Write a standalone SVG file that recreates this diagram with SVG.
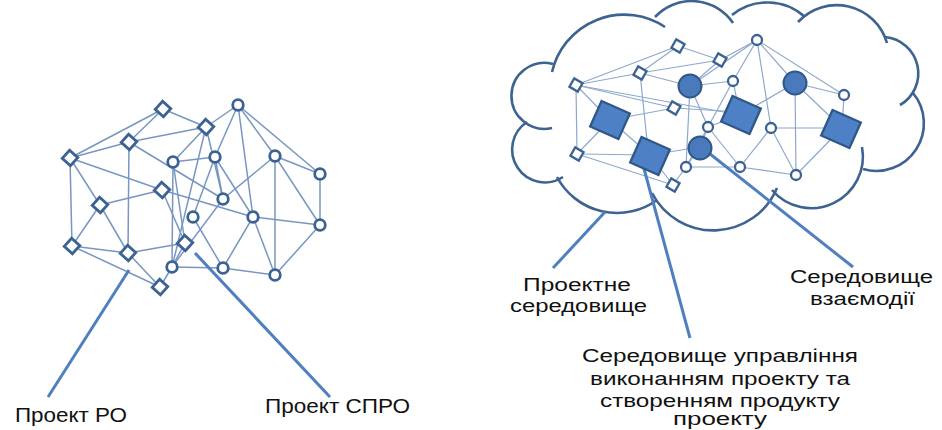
<svg xmlns="http://www.w3.org/2000/svg" xmlns:xlink="http://www.w3.org/1999/xlink" width="942" height="430" viewBox="0 0 942 430">
<style>
.bg{fill:#ffffff}
.el{stroke:#7896c2;stroke-width:1.5;fill:none}
.er{stroke:#8ea8cc;stroke-width:1.2;fill:none}
.lead{stroke:#4f7fbf;stroke-width:3;fill:none;stroke-linecap:butt}
.cloud{stroke:#3d6390;stroke-width:2.6;fill:none}
.nsq{fill:#ffffff;stroke:#3b6292;stroke-width:2.8}
.ncir{fill:#ffffff;stroke:#3b6292;stroke-width:2.8}
.rsq{fill:#ffffff;stroke:#3b6292;stroke-width:2.3}
.rcir{fill:#ffffff;stroke:#3b6292;stroke-width:2.3}
.big{fill:#4d80c4;stroke:#2f5888;stroke-width:2.3}
.fc{fill:#4a7abb;stroke:#2f5888;stroke-width:2}
.lbl{font-family:"Liberation Sans",Arial,sans-serif;fill:#111111}
</style>
<defs>
<rect id="sqL" x="-5.5" y="-5.5" width="11" height="11" class="nsq" transform="rotate(42)"/>
<circle id="ciL" r="5.3" class="ncir"/>
<rect id="sqR" x="-4.8" y="-4.8" width="9.6" height="9.6" class="rsq" transform="rotate(30)"/>
<circle id="ciR" r="5" class="rcir"/>
<rect id="bigR" x="-15.5" y="-14" width="31" height="28" class="big" transform="rotate(24)"/>
<circle id="fcR" r="11.5" class="fc"/>
</defs>
<rect class="bg" x="0" y="0" width="942" height="430"/>

<g id="cloud">
<path class="cloud" d="M563,177 A32,32 0 1,1 527,122"/>
<path class="cloud" d="M552,128 A33,33 0 1,1 553,64"/>
<path class="cloud" d="M552,72 A74,74 0 0,1 665,27"/>
<path class="cloud" d="M655,17 A50,50 0 0,1 733,23"/>
<path class="cloud" d="M732,15 A56,56 0 0,1 805,17"/>
<path class="cloud" d="M798,22 A52.5,52.5 0 0,1 887,43"/>
<path class="cloud" d="M885,37 A36.5,36.5 0 0,1 900,105"/>
<path class="cloud" d="M913,93 A47.6,47.6 0 0,1 863,169"/>
<path class="cloud" d="M862,147 A51.6,51.6 0 0,1 772,190"/>
<path class="cloud" d="M777,188 A69,69 0 0,1 652,193"/>
<path class="cloud" d="M657,200 A68,68 0 0,1 557,177"/>
</g>

<g id="connectors">
<g id="left-edges">
<line class="el" x1="70" y1="158" x2="163" y2="109"/>
<line class="el" x1="163" y1="109" x2="206" y2="127"/>
<line class="el" x1="163" y1="109" x2="129" y2="142"/>
<line class="el" x1="129" y1="142" x2="206" y2="127"/>
<line class="el" x1="70" y1="158" x2="129" y2="142"/>
<line class="el" x1="70" y1="158" x2="162" y2="190"/>
<line class="el" x1="70" y1="158" x2="100" y2="205"/>
<line class="el" x1="70" y1="158" x2="72" y2="246"/>
<line class="el" x1="129" y1="142" x2="128" y2="253"/>
<line class="el" x1="129" y1="142" x2="223" y2="199"/>
<line class="el" x1="100" y1="205" x2="162" y2="190"/>
<line class="el" x1="100" y1="205" x2="72" y2="246"/>
<line class="el" x1="100" y1="205" x2="128" y2="253"/>
<line class="el" x1="72" y1="246" x2="128" y2="253"/>
<line class="el" x1="72" y1="246" x2="160" y2="287"/>
<line class="el" x1="128" y1="253" x2="160" y2="287"/>
<line class="el" x1="128" y1="253" x2="185" y2="243"/>
<line class="el" x1="162" y1="190" x2="185" y2="243"/>
<line class="el" x1="162" y1="190" x2="253" y2="217"/>
<line class="el" x1="238" y1="105" x2="206" y2="127"/>
<line class="el" x1="238" y1="105" x2="215" y2="157"/>
<line class="el" x1="238" y1="105" x2="275" y2="156"/>
<line class="el" x1="238" y1="105" x2="320" y2="174"/>
<line class="el" x1="238" y1="105" x2="253" y2="217"/>
<line class="el" x1="275" y1="156" x2="320" y2="174"/>
<line class="el" x1="275" y1="156" x2="275" y2="275"/>
<line class="el" x1="275" y1="156" x2="223" y2="199"/>
<line class="el" x1="275" y1="156" x2="320" y2="225"/>
<line class="el" x1="320" y1="174" x2="320" y2="225"/>
<line class="el" x1="320" y1="225" x2="253" y2="217"/>
<line class="el" x1="320" y1="225" x2="275" y2="275"/>
<line class="el" x1="253" y1="217" x2="275" y2="275"/>
<line class="el" x1="253" y1="217" x2="223" y2="268"/>
<line class="el" x1="215" y1="157" x2="223" y2="199"/>
<line class="el" x1="215" y1="157" x2="193" y2="217"/>
<line class="el" x1="215" y1="157" x2="173" y2="162"/>
<line class="el" x1="215" y1="157" x2="253" y2="217"/>
<line class="el" x1="173" y1="162" x2="172" y2="267"/>
<line class="el" x1="173" y1="162" x2="185" y2="243"/>
<line class="el" x1="193" y1="217" x2="223" y2="268"/>
<line class="el" x1="223" y1="199" x2="172" y2="267"/>
<line class="el" x1="172" y1="267" x2="223" y2="268"/>
<line class="el" x1="223" y1="268" x2="275" y2="275"/>
<line class="el" x1="206" y1="127" x2="173" y2="162"/>
<line class="el" x1="206" y1="127" x2="172" y2="267"/>
<line class="el" x1="206" y1="127" x2="223" y2="199"/>
<line class="el" x1="185" y1="243" x2="172" y2="267"/>
<line class="el" x1="160" y1="287" x2="172" y2="267"/>
</g>
<g id="right-edges">
<line class="er" x1="678" y1="46" x2="640" y2="73"/>
<line class="er" x1="678" y1="46" x2="576" y2="85"/>
<line class="er" x1="678" y1="46" x2="720" y2="60"/>
<line class="er" x1="640" y1="73" x2="576" y2="85"/>
<line class="er" x1="640" y1="73" x2="720" y2="60"/>
<line class="er" x1="640" y1="73" x2="648" y2="150"/>
<line class="er" x1="576" y1="85" x2="674" y2="108"/>
<line class="er" x1="576" y1="85" x2="577" y2="154"/>
<line class="er" x1="576" y1="85" x2="610" y2="120"/>
<line class="er" x1="576" y1="85" x2="740" y2="115"/>
<line class="er" x1="577" y1="154" x2="610" y2="120"/>
<line class="er" x1="577" y1="154" x2="673" y2="185"/>
<line class="er" x1="577" y1="154" x2="650" y2="155"/>
<line class="er" x1="610" y1="120" x2="674" y2="108"/>
<line class="er" x1="610" y1="120" x2="650" y2="155"/>
<line class="er" x1="650" y1="155" x2="673" y2="185"/>
<line class="er" x1="650" y1="155" x2="700" y2="147"/>
<line class="er" x1="690" y1="86" x2="640" y2="73"/>
<line class="er" x1="690" y1="86" x2="720" y2="60"/>
<line class="er" x1="690" y1="86" x2="733" y2="81"/>
<line class="er" x1="690" y1="86" x2="708" y2="127"/>
<line class="er" x1="690" y1="86" x2="686" y2="167"/>
<line class="er" x1="757" y1="40" x2="720" y2="60"/>
<line class="er" x1="757" y1="40" x2="733" y2="81"/>
<line class="er" x1="757" y1="40" x2="795" y2="83"/>
<line class="er" x1="757" y1="40" x2="844" y2="95"/>
<line class="er" x1="757" y1="40" x2="771" y2="128"/>
<line class="er" x1="757" y1="40" x2="690" y2="86"/>
<line class="er" x1="733" y1="81" x2="740" y2="115"/>
<line class="er" x1="733" y1="81" x2="708" y2="127"/>
<line class="er" x1="795" y1="83" x2="844" y2="95"/>
<line class="er" x1="795" y1="83" x2="740" y2="115"/>
<line class="er" x1="795" y1="83" x2="796" y2="175"/>
<line class="er" x1="795" y1="83" x2="842" y2="128"/>
<line class="er" x1="844" y1="95" x2="842" y2="128"/>
<line class="er" x1="842" y1="128" x2="796" y2="175"/>
<line class="er" x1="842" y1="128" x2="771" y2="128"/>
<line class="er" x1="740" y1="115" x2="708" y2="127"/>
<line class="er" x1="771" y1="128" x2="740" y2="167"/>
<line class="er" x1="771" y1="128" x2="796" y2="175"/>
<line class="er" x1="740" y1="167" x2="796" y2="175"/>
<line class="er" x1="740" y1="167" x2="686" y2="167"/>
<line class="er" x1="700" y1="147" x2="686" y2="167"/>
<line class="er" x1="700" y1="147" x2="708" y2="127"/>
<line class="er" x1="708" y1="127" x2="740" y2="167"/>
<line class="er" x1="686" y1="167" x2="673" y2="185"/>
<line class="er" x1="674" y1="108" x2="740" y2="112"/>
<line class="er" x1="708" y1="127" x2="686" y2="167"/>
</g>
<g id="leaders">
<line class="lead" x1="129" y1="270" x2="48" y2="397"/>
<line class="lead" x1="195" y1="253" x2="330" y2="397"/>
<line class="lead" x1="605" y1="212" x2="553" y2="268"/>
<line class="lead" x1="643" y1="165" x2="690" y2="338"/>
<line class="lead" x1="705" y1="150" x2="853" y2="267"/>
</g>
</g>

<g id="left-nodes">
<g id="l-s1" transform="translate(163,109)"><use xlink:href="#sqL"/></g>
<g id="l-s2" transform="translate(206,127)"><use xlink:href="#sqL"/></g>
<g id="l-s3" transform="translate(129,142)"><use xlink:href="#sqL"/></g>
<g id="l-s4" transform="translate(70,158)"><use xlink:href="#sqL"/></g>
<g id="l-s5" transform="translate(162,190)"><use xlink:href="#sqL"/></g>
<g id="l-s6" transform="translate(100,205)"><use xlink:href="#sqL"/></g>
<g id="l-s7" transform="translate(72,246)"><use xlink:href="#sqL"/></g>
<g id="l-s8" transform="translate(128,253)"><use xlink:href="#sqL"/></g>
<g id="l-s9" transform="translate(185,243)"><use xlink:href="#sqL"/></g>
<g id="l-s10" transform="translate(160,287)"><use xlink:href="#sqL"/></g>
<g id="l-c1" transform="translate(238,105)"><use xlink:href="#ciL"/></g>
<g id="l-c2" transform="translate(173,162)"><use xlink:href="#ciL"/></g>
<g id="l-c3" transform="translate(215,157)"><use xlink:href="#ciL"/></g>
<g id="l-c4" transform="translate(275,156)"><use xlink:href="#ciL"/></g>
<g id="l-c5" transform="translate(320,174)"><use xlink:href="#ciL"/></g>
<g id="l-c6" transform="translate(223,199)"><use xlink:href="#ciL"/></g>
<g id="l-c7" transform="translate(193,217)"><use xlink:href="#ciL"/></g>
<g id="l-c8" transform="translate(253,217)"><use xlink:href="#ciL"/></g>
<g id="l-c9" transform="translate(320,225)"><use xlink:href="#ciL"/></g>
<g id="l-c10" transform="translate(172,267)"><use xlink:href="#ciL"/></g>
<g id="l-c11" transform="translate(223,268)"><use xlink:href="#ciL"/></g>
<g id="l-c12" transform="translate(275,275)"><use xlink:href="#ciL"/></g>
</g>

<g id="right-nodes">
<g id="r-s1" transform="translate(678,46)"><use xlink:href="#sqR"/></g>
<g id="r-s2" transform="translate(720,60)"><use xlink:href="#sqR"/></g>
<g id="r-s3" transform="translate(640,73)"><use xlink:href="#sqR"/></g>
<g id="r-s4" transform="translate(576,85)"><use xlink:href="#sqR"/></g>
<g id="r-s5" transform="translate(674,108)"><use xlink:href="#sqR"/></g>
<g id="r-s6" transform="translate(577,154)"><use xlink:href="#sqR"/></g>
<g id="r-s7" transform="translate(673,185)"><use xlink:href="#sqR"/></g>
<g id="r-b1" transform="translate(610,120)"><use xlink:href="#bigR"/></g>
<g id="r-b2" transform="translate(650,156)"><use xlink:href="#bigR"/></g>
<g id="r-b3" transform="translate(741,115)"><use xlink:href="#bigR"/></g>
<g id="r-b4" transform="translate(841,129)"><use xlink:href="#bigR"/></g>
<g id="r-f1" transform="translate(690,86)"><use xlink:href="#fcR"/></g>
<g id="r-f2" transform="translate(795,83)"><use xlink:href="#fcR"/></g>
<g id="r-f3" transform="translate(700,148)"><use xlink:href="#fcR"/></g>
<g id="r-w1" transform="translate(757,40)"><use xlink:href="#ciR"/></g>
<g id="r-w2" transform="translate(733,81)"><use xlink:href="#ciR"/></g>
<g id="r-w3" transform="translate(844,95)"><use xlink:href="#ciR"/></g>
<g id="r-w4" transform="translate(708,127)"><use xlink:href="#ciR"/></g>
<g id="r-w5" transform="translate(771,128)"><use xlink:href="#ciR"/></g>
<g id="r-w7" transform="translate(686,167)"><use xlink:href="#ciR"/></g>
<g id="r-w8" transform="translate(740,167)"><use xlink:href="#ciR"/></g>
<g id="r-w9" transform="translate(796,175)"><use xlink:href="#ciR"/></g>
</g>

<g id="labels" class="lbl">
<text x="15" y="422" font-size="21" textLength="112" lengthAdjust="spacingAndGlyphs">Проект РО</text>
<text x="265" y="413" font-size="21" textLength="145" lengthAdjust="spacingAndGlyphs">Проект СПРО</text>
<text x="523" y="290.5" font-size="17.5" textLength="108" lengthAdjust="spacingAndGlyphs">Проектне</text>
<text x="510" y="312" font-size="17.5" textLength="137" lengthAdjust="spacingAndGlyphs">середовище</text>
<text x="790" y="283" font-size="17.5" textLength="143" lengthAdjust="spacingAndGlyphs">Середовище</text>
<text x="810" y="305" font-size="17.5" textLength="105" lengthAdjust="spacingAndGlyphs">взаємодії</text>
<text x="582" y="362" font-size="17.5" textLength="276" lengthAdjust="spacingAndGlyphs">Середовище управління</text>
<text x="590" y="385" font-size="17.5" textLength="260" lengthAdjust="spacingAndGlyphs">виконанням проекту та</text>
<text x="600" y="406.5" font-size="17.5" textLength="240" lengthAdjust="spacingAndGlyphs">створенням продукту</text>
<text x="673" y="425" font-size="17.5" textLength="94" lengthAdjust="spacingAndGlyphs">проекту</text>
</g>
</svg>
